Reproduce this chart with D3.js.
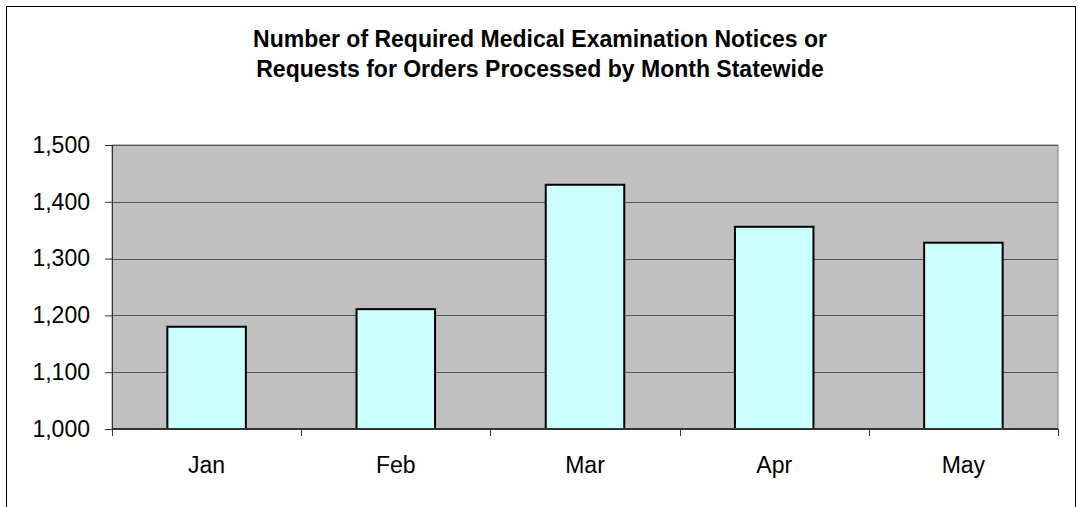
<!DOCTYPE html>
<html>
<head>
<meta charset="utf-8">
<script src="https://cdn.jsdelivr.net/npm/d3@7"></script>
<style>
  html, body { margin: 0; padding: 0; background: #fff; }
  svg { display: block; font-family: Arial, "Liberation Sans", sans-serif; }
</style>
</head>
<body>
<div id="chart"></div>
<script>
const months = ['Jan', 'Feb', 'Mar', 'Apr', 'May'];
const notices = [1180, 1211, 1430, 1356, 1328];
const yTicks = [1000, 1100, 1200, 1300, 1400, 1500];
const titleLines = [
  'Number of Required Medical Examination Notices or',
  'Requests for Orders Processed by Month Statewide'
];

const svg = d3.select('#chart')
  .append('svg')
  .attr('width', 1078)
  .attr('height', 507);

// outer frame (bottom edge runs off the picture)
svg.append('rect')
  .attr('x', 6.5).attr('y', 6.5)
  .attr('width', 1069).attr('height', 520)
  .attr('fill', '#fff')
  .attr('stroke', '#000');

const margin = { top: 145, right: 20, bottom: 78, left: 112 };
const width = 1058 - margin.left;
const height = 429 - margin.top;

const g = svg.append('g')
  .attr('transform', `translate(${margin.left},${margin.top})`);

const x = d3.scaleBand().domain(months).range([0, width]).paddingInner(0.585).paddingOuter(0.2925);
const y = d3.scaleLinear().domain([1000, 1500]).range([height, 0]);

// plot background
g.append('rect')
  .attr('width', width).attr('height', height)
  .attr('fill', '#c0c0c0')
  .attr('stroke', '#808080');

// gridlines
g.selectAll('.grid')
  .data(yTicks.filter(d => d > 1000))
  .enter().append('line')
  .attr('class', 'grid')
  .attr('x1', 0).attr('x2', width)
  .attr('y1', d => Math.round(y(d)) + 0.5)
  .attr('y2', d => Math.round(y(d)) + 0.5)
  .attr('stroke', '#555')
  .attr('stroke-width', 1);

// bars
g.selectAll('.bar')
  .data(notices)
  .enter().append('rect')
  .attr('class', 'bar')
  .attr('x', (d, i) => x(months[i]))
  .attr('y', d => y(d))
  .attr('width', x.bandwidth())
  .attr('height', d => height - y(d))
  .attr('fill', '#ccffff')
  .attr('stroke', '#000')
  .attr('stroke-width', 2);

// y axis
const yAxis = g.append('g')
  .call(d3.axisLeft(y).tickValues(yTicks).tickSize(7).tickPadding(15).tickFormat(d3.format(',')));
yAxis.select('.domain').attr('stroke', '#333');
yAxis.selectAll('.tick line').attr('stroke', '#333');
yAxis.selectAll('text')
  .attr('font-size', '23px')
  .attr('fill', '#000')
  .attr('font-family', 'Arial, "Liberation Sans", sans-serif');

// x axis: ticks at band boundaries, labels at band centres
const xAxis = g.append('g').attr('transform', `translate(0,${height})`);
xAxis.append('line')
  .attr('x1', 0).attr('x2', width)
  .attr('stroke', '#333').attr('stroke-width', 2);
const step = x.step();
xAxis.selectAll('.xtick')
  .data(d3.range(months.length + 1))
  .enter().append('line')
  .attr('class', 'xtick')
  .attr('x1', i => Math.round(i * step) + 0.5)
  .attr('x2', i => Math.round(i * step) + 0.5)
  .attr('y1', 0).attr('y2', 7)
  .attr('stroke', '#333');
xAxis.selectAll('.xlabel')
  .data(months)
  .enter().append('text')
  .attr('class', 'xlabel')
  .attr('x', d => x(d) + x.bandwidth() / 2)
  .attr('y', 44)
  .attr('text-anchor', 'middle')
  .attr('font-size', '23px')
  .text(d => d);

// title
svg.selectAll('.title')
  .data(titleLines)
  .enter().append('text')
  .attr('class', 'title')
  .attr('x', 540)
  .attr('y', (d, i) => 47 + i * 30)
  .attr('text-anchor', 'middle')
  .attr('font-size', '23px')
  .attr('font-weight', 'bold')
  .text(d => d);
</script>
</body>
</html>
